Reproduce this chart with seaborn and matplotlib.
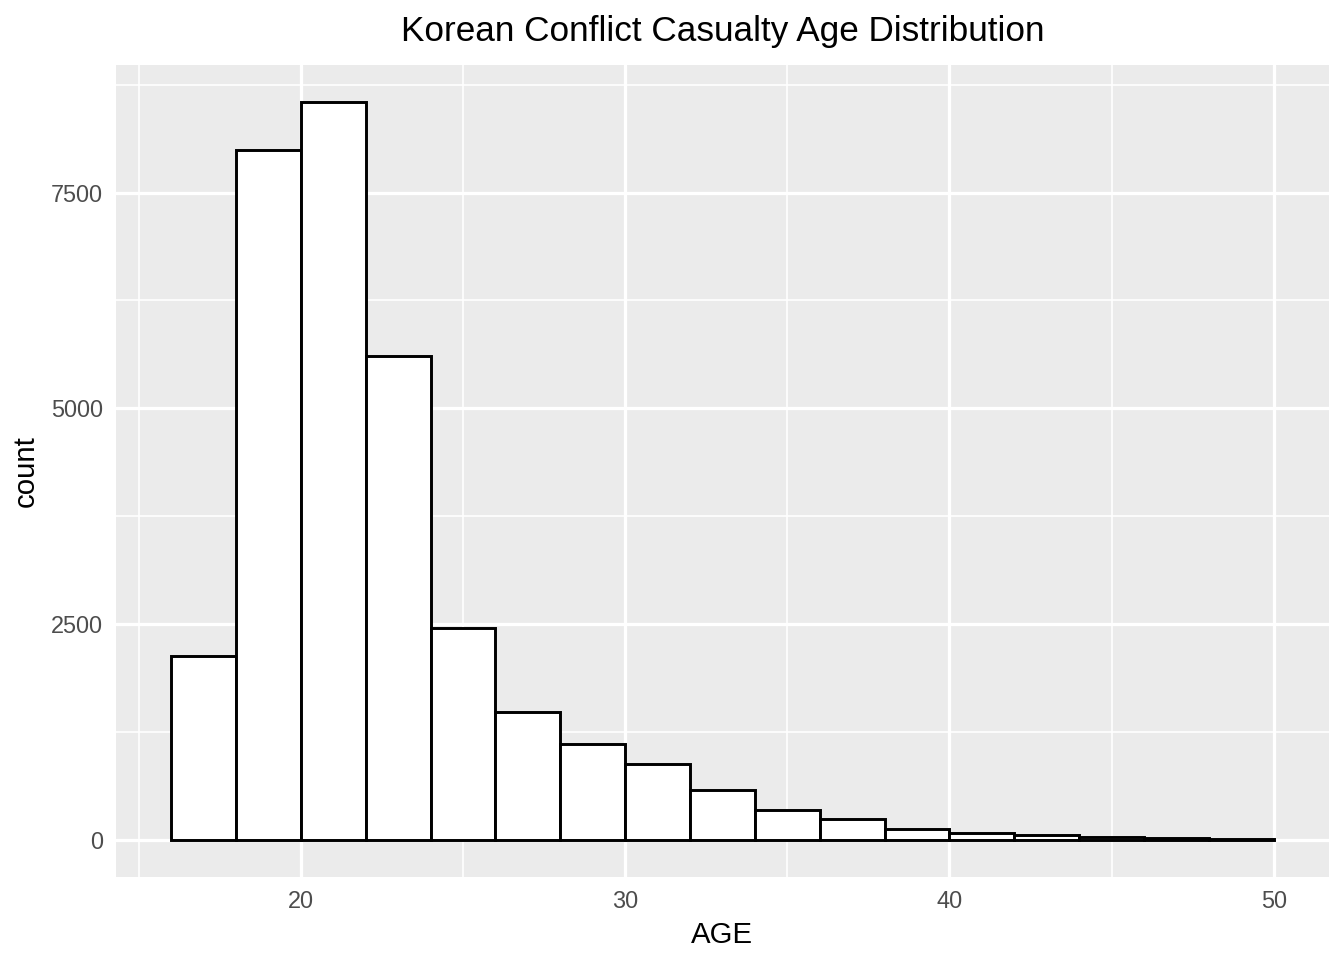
import numpy as np
import pandas as pd
import seaborn as sns
import matplotlib.pyplot as plt
from matplotlib.ticker import FixedLocator

# bin edges (width 2 years) and counts
bin_left = [16, 18, 20, 22, 24, 26, 28, 30, 32, 34, 36, 38, 40, 42, 44, 46, 48]
counts = [2130, 7990, 8550, 5610, 2454, 1481, 1111, 880, 579, 347, 243, 127, 81, 54, 38, 20, 10]
edges = bin_left + [50]

df = pd.DataFrame({'AGE': [b + 1 for b in bin_left], 'n': counts})

sns.set_theme(style='darkgrid')
plt.rcParams['font.family'] = ['Liberation Sans', 'DejaVu Sans']

# ggplot-ish: 7x5 inches at 192 dpi -> 1344x960
fig, ax = plt.subplots(figsize=(7, 5), dpi=192)
fig.subplots_adjust(left=0.0863, right=0.9888, bottom=0.0865, top=0.9323)

sns.histplot(df, x='AGE', weights='n', bins=edges, color='white', alpha=1,
             edgecolor='black', linewidth=1.1, ax=ax)

# ggplot default expansion of 5%
ax.set_xlim(16 - 0.05 * 34, 50 + 0.05 * 34)
ax.set_ylim(-0.05 * 8550, 8550 * 1.05)

ax.set_facecolor('#EBEBEB')
for s in ax.spines.values():
    s.set_visible(False)
ax.xaxis.set_major_locator(FixedLocator([20, 30, 40, 50]))
ax.xaxis.set_minor_locator(FixedLocator([15, 25, 35, 45]))
ax.yaxis.set_major_locator(FixedLocator([0, 2500, 5000, 7500]))
ax.yaxis.set_minor_locator(FixedLocator([1250, 3750, 6250, 8750]))
ax.grid(which='major', color='white', linewidth=1.2)
ax.grid(which='minor', color='white', linewidth=0.6)
ax.set_axisbelow(True)
ax.tick_params(which='major', length=2.75, width=1.1, color='#333333',
               labelsize=8.8, labelcolor='#4D4D4D', pad=2.2)
ax.tick_params(which='minor', length=0)

ax.set_xlabel('AGE', fontsize=11, color='black', labelpad=3)
ax.set_ylabel('count', fontsize=11, color='black', labelpad=4)
ax.set_title('Korean Conflict Casualty Age Distribution', fontsize=13.2, color='black', pad=9)

fig.savefig('out.png', dpi=192)
